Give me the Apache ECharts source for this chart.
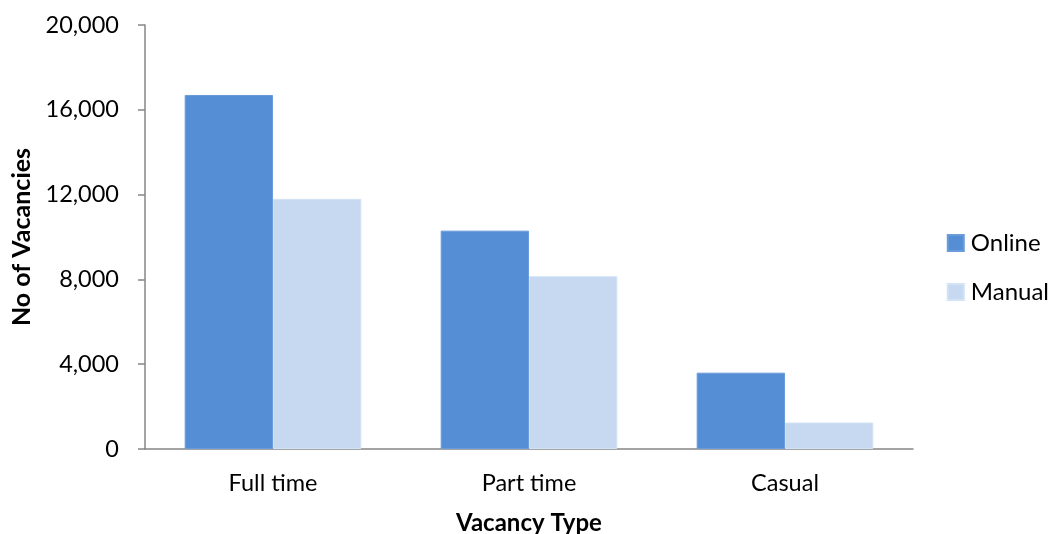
<!DOCTYPE html>
<html><head><meta charset="utf-8">
<script src="https://cdn.jsdelivr.net/npm/echarts@6/dist/echarts.min.js"></script>
<style>html,body{margin:0;padding:0;background:#fff}#c{width:1056px;height:534px}</style>
</head><body><div id="c"></div>
<script>
const categories = ['Full time', 'Part time', 'Casual'];
const online = [16700, 10300, 3600];
const manual = [11800, 8150, 1250];
const yTicks = [0, 4000, 8000, 12000, 16000, 20000];

const FONT = 'Lato';
const chart = echarts.init(document.getElementById('c'));
chart.setOption({
  animation: false,
  textStyle: { fontFamily: FONT, color: '#000' },
  grid: { left: 145, right: 143, top: 25, bottom: 85, containLabel: false, outerBoundsMode: 'none' },
  legend: {
    orient: 'vertical', right: 2, top: 226,
    itemWidth: 16, itemHeight: 16, itemGap: 25,
    icon: 'rect',
    textStyle: { fontFamily: FONT, fontSize: 24, lineHeight: 24, color: '#000', padding: [0, 0, 0, 2] },
    data: ['Online', 'Manual']
  },
  xAxis: {
    type: 'category', data: categories,
    name: 'Vacancy Type', nameLocation: 'middle', nameGap: 62,
    nameTextStyle: { fontFamily: FONT, fontSize: 24, fontWeight: 'bold', color: '#000' },
    axisLine: { lineStyle: { color: '#868686', width: 1.5 } },
    axisTick: { show: false },
    axisLabel: { margin: 22, fontSize: 23.5, color: '#000', fontFamily: FONT }
  },
  yAxis: {
    type: 'value', min: 0, max: 20000, interval: 4000,
    name: 'No of Vacancies', nameLocation: 'middle', nameGap: 110,
    nameTextStyle: { fontFamily: FONT, fontSize: 25, fontWeight: 'bold', color: '#000' },
    axisLine: { show: true, lineStyle: { color: '#868686', width: 1.5 } },
    axisTick: { show: true, length: 7, lineStyle: { color: '#868686', width: 1.5 } },
    splitLine: { show: false },
    axisLabel: {
      margin: 26, fontSize: 23.5, color: '#000', fontFamily: FONT,
      formatter: v => yTicks.includes(v) ? v.toLocaleString('en-US') : ''
    }
  },
  series: [
    { name: 'Online', type: 'bar', data: online, barGap: '0%', barCategoryGap: '31%',
      itemStyle: { color: '#558ED5', borderColor: '#6A9BDA', borderWidth: 1 } },
    { name: 'Manual', type: 'bar', data: manual, barGap: '0%', barCategoryGap: '31%',
      itemStyle: { color: '#C6D9F1', borderColor: '#D3E2F4', borderWidth: 1 } }
  ]
});
</script></body></html>
